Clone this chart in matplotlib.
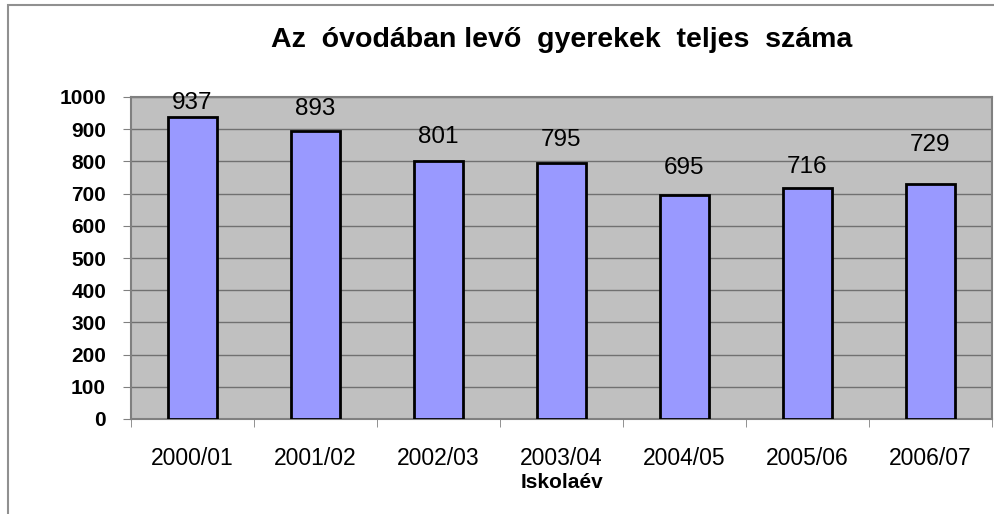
import matplotlib.pyplot as plt
from matplotlib.patches import Rectangle
import numpy as np

plt.rcParams["font.family"] = ["Liberation Sans", "DejaVu Sans"]

years = ["2000/01", "2001/02", "2002/03", "2003/04", "2004/05", "2005/06", "2006/07"]
counts = [937, 893, 801, 795, 695, 716, 729]
title = "Az  óvodában levő  gyerekek  teljes  száma"

# címkék függőleges eltolása a oszlop tetejétől (pixel), ahogy az eredetiben kézzel elhelyezték
label_shift_px = [14, 22, 24, 23, 27, 21, 39]

fig = plt.figure(figsize=(9.95, 5.14), dpi=100)
ax = fig.add_axes([131 / 995, 1 - 419 / 514, 861 / 995, 322 / 514])

# külső szürke keret
fig.patches.append(Rectangle((8 / 995, -0.1), 1.2, (1 - 5 / 514) + 0.1,
                             transform=fig.transFigure, fill=False,
                             edgecolor="#909090", linewidth=1.5))

x = np.arange(len(years))
ax.set_facecolor("#C0C0C0")
ax.bar(x, counts, width=0.4, color="#9999FF", edgecolor="black", linewidth=2, zorder=3)
for xi, v, s in zip(x, counts, label_shift_px):
    ax.annotate(str(v), (xi, v), xytext=(0, s * 0.72), textcoords="offset points",
                ha="center", va="center", fontsize=17.5)

ax.set_xlim(-0.5, len(years) - 0.5)
ax.set_ylim(0, 1000)
ax.set_yticks(range(0, 1001, 100))
ax.set_yticklabels([str(v) for v in range(0, 1001, 100)], fontsize=15, fontweight="bold")
ax.yaxis.grid(True, color="#707070", linewidth=1, zorder=0)
ax.set_axisbelow(True)

ax.set_xticks(x)
ax.set_xticklabels(years, fontsize=16.5)
ax.set_xticks(np.arange(-0.5, len(years)), minor=True)
ax.tick_params(axis="x", which="major", length=0, pad=20)
ax.tick_params(axis="x", which="minor", length=6, color="#808080")
ax.tick_params(axis="y", length=6, color="#808080", pad=12)
ax.set_xlabel("Iskolaév", fontsize=15, fontweight="bold", labelpad=2)

for side in ax.spines:
    ax.spines[side].set_color("#808080")
    ax.spines[side].set_linewidth(1.5)

fig.text(562 / 995, 1 - 40 / 514, title, ha="center", va="center",
         fontsize=20.5, fontweight="bold")

fig.savefig("out.png", dpi=100)
